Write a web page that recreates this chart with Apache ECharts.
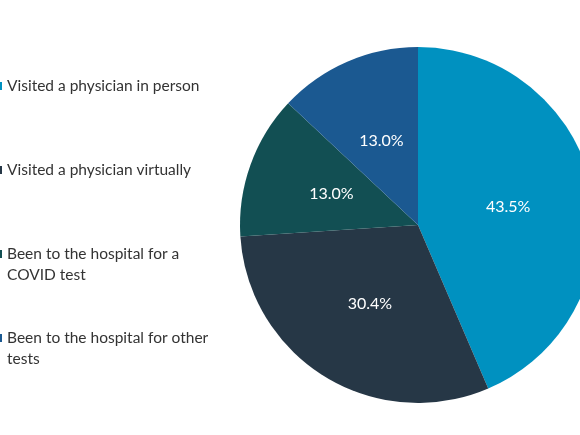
<!DOCTYPE html>
<html>
<head>
<meta charset="utf-8">
<script src="https://cdn.jsdelivr.net/npm/echarts@6/dist/echarts.min.js"></script>
<style>html,body{margin:0;padding:0;background:#fff}#c{width:580px;height:435px}</style>
</head>
<body>
<div id="c"></div>
<script>
// pie order (clockwise from top)
const sliceNames = [
  'Visited a physician in person',
  'Visited a physician virtually',
  'Been to the hospital for a COVID test',
  'Been to the hospital for other tests'
];
const sliceValues = [43.5, 30.4, 13.0, 13.0];
const sliceColors = ['#0091c0', '#263746', '#124f53', '#1b5991'];
const legendOrder = [
  'Visited a physician in person',
  'Visited a physician virtually',
  'Been to the hospital for a COVID test',
  'Been to the hospital for other tests'
];
const legendLabels = [
  'Visited a physician in person',
  'Visited a physician virtually',
  'Been to the hospital for a\nCOVID test',
  'Been to the hospital for other\ntests'
];
const legendTops = [86, 170, 254, 338];

const font = 'Lato, "Noto Sans", sans-serif';
const LH = 21;
// marker aligned with the first text line of a two-line legend entry
const topMarkerIcon = 'path://M0,0 L0.01,0 M0,6.5 L4,6.5 L4,14.5 L0,14.5 Z M0,42 L0.01,42';

const legends = legendOrder.map((name, i) => {
  const multi = legendLabels[i].indexOf('\n') >= 0;
  return {
    orient: 'vertical',
    left: -2,
    top: legendTops[i] - 10.5,
    padding: 0,
    itemWidth: 4,
    itemHeight: multi ? 2 * LH : 8,
    icon: multi ? topMarkerIcon : 'rect',
    selectedMode: false,
    formatter: () => legendLabels[i],
    data: [name],
    textStyle: {
      fontFamily: font,
      fontSize: 15.5,
      color: '#333333',
      lineHeight: LH
    }
  };
});

const chart = echarts.init(document.getElementById('c'));
chart.setOption({
  animation: false,
  color: sliceColors,
  legend: legends,
  series: [{
    type: 'pie',
    center: [418, 225],
    radius: 178,
    startAngle: 90,
    clockwise: true,
    label: {
      show: true,
      position: 'inside',
      color: '#ffffff',
      fontFamily: font,
      fontSize: 16,
      formatter: p => p.value.toFixed(1) + '%'
    },
    labelLine: { show: false },
    itemStyle: { borderWidth: 0 },
    emphasis: { disabled: true },
    data: sliceNames.map((n, i) => ({ name: n, value: sliceValues[i] }))
  }]
});
</script>
</body>
</html>
